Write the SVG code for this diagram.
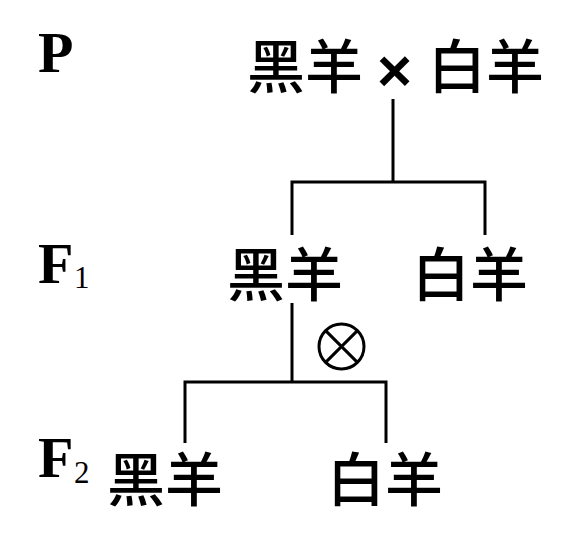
<svg xmlns="http://www.w3.org/2000/svg" width="576" height="545" viewBox="0 0 576 545">
<style>
.cjk{font-family:"Noto Sans CJK SC","Noto Sans CJK JP",sans-serif;font-size:58px;font-weight:500;fill:#000}
.lbl{font-family:"Liberation Serif","Times New Roman",serif;font-size:58px;font-weight:bold;fill:#000}
.sub{font-family:"Liberation Serif","Times New Roman",serif;font-size:31px;fill:#000}
.ln{stroke:#000;stroke-width:3;fill:none;stroke-linecap:butt}
</style>
<rect width="576" height="545" fill="#fff"/>
<g id="labels">
<text class="lbl" x="38" y="72">P</text>
<text class="lbl" x="38" y="283">F</text><text class="sub" x="74" y="288">1</text>
<text class="lbl" x="38" y="477">F</text><text class="sub" x="74" y="483">2</text>
</g>
<g id="p-black"><text class="cjk" x="247" y="88">黑羊</text></g>
<g id="cross"><text x="377" y="91" style="font-family:'Liberation Sans',Arial,sans-serif;font-size:60px;font-weight:bold">×</text></g>
<g id="p-white"><text class="cjk" x="428" y="88">白羊</text></g>
<g id="f1-black"><text class="cjk" x="227" y="296">黑羊</text></g>
<g id="f1-white"><text class="cjk" x="412" y="296">白羊</text></g>
<g id="selfing">
<circle class="ln" cx="341.5" cy="346.5" r="22.5"/>
<path class="ln" d="M325.6 330.6L357.4 362.4M357.4 330.6L325.6 362.4"/>
</g>
<g id="f2-black"><text class="cjk" x="107" y="501">黑羊</text></g>
<g id="f2-white"><text class="cjk" x="327" y="501">白羊</text></g>
<g id="connectors">
<path class="ln" d="M393 99V182M292 235V182H485V235"/>
<path class="ln" d="M292 303V382M185 443V382H386V443"/>
</g>
</svg>
